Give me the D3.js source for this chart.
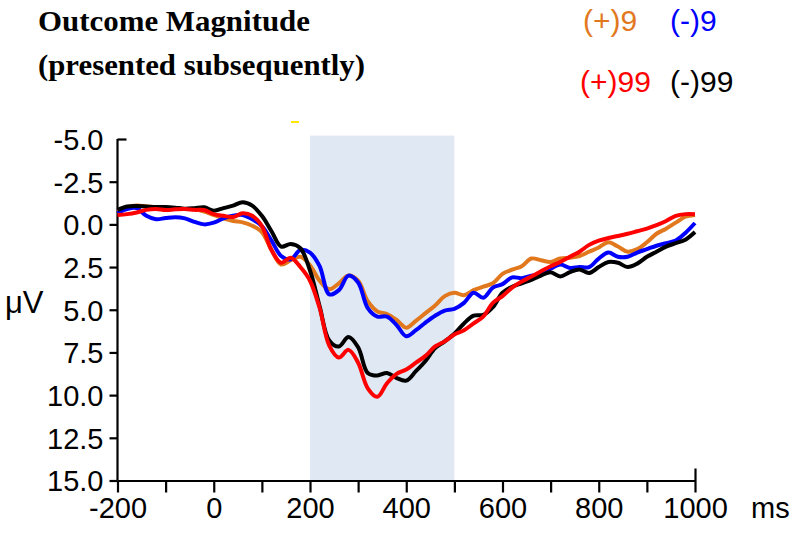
<!DOCTYPE html>
<html>
<head>
<meta charset="utf-8">
<script src="https://cdn.jsdelivr.net/npm/d3@7"></script>
<style>
    body { margin: 0; background: #fff; }
    svg { display: block; }
    .axis path, .axis line { stroke: #000; stroke-width: 2.2px; }
    .axis text { font-family: "Liberation Sans", Arial, sans-serif; fill: #000; }
</style>
</head>
<body>
<div id="chart"></div>
<script>
// time points in ms (one sample every 20 ms)
var times = d3.range(-200, 1001, 20);

// ERP amplitude in microvolts for each condition
var plus9 = [-0.72, -1.0, -1.1, -1.05, -1.0, -0.96, -0.93, -0.9, -0.88, -0.75,
    -0.55, -0.35, -0.2, -0.12, 0.08, 0.45, 1.5, 2.35, 2.1, 1.9,
    2.4, 3.3, 3.8, 3.45, 3.0, 3.3, 4.5, 5.1, 5.25, 5.6,
    6.05, 5.65, 5.2, 4.75, 4.2, 4.0, 4.15, 3.85, 3.65, 3.45,
    2.9, 2.65, 2.45, 2.0, 2.1, 2.2, 2.0, 1.95, 1.85, 1.6,
    1.35, 1.05, 1.3, 1.6, 1.45, 1.05, 0.55, 0.25, -0.1, -0.45, -0.55];
var minus9 = [-0.67, -0.9, -0.95, -0.5, -0.3, -0.37, -0.42, -0.35, -0.15, 0.0,
    -0.1, -0.35, -0.5, -0.55, -0.3, 0.1, 0.95, 1.85, 2.05, 1.5,
    1.65, 2.45, 4.1, 3.85, 3.0, 3.4, 4.9, 5.4, 5.4, 5.9,
    6.55, 6.2, 5.75, 5.35, 5.05, 4.95, 4.6, 4.0, 4.3, 3.7,
    3.5, 3.1, 3.15, 3.0, 2.95, 2.6, 2.35, 2.55, 2.5, 2.5,
    2.0, 1.65, 1.9, 1.9, 1.65, 1.45, 1.25, 1.1, 0.95, 0.5, -0.08];
var plus99 = [-0.55, -0.6, -0.7, -0.85, -0.9, -0.84, -0.88, -0.9, -0.85, -0.84,
    -0.6, -0.5, -0.43, -0.65, -0.5, 0.1, 1.5, 2.25, 1.95, 2.5,
    3.3, 4.9, 7.1, 7.8, 7.35, 8.1, 9.6, 10.1, 9.3, 8.75,
    8.5, 8.1, 7.7, 7.15, 6.85, 6.45, 6.2, 5.8, 5.4, 4.6,
    4.2, 3.7, 3.35, 3.05, 2.75, 2.45, 2.2, 1.9, 1.6, 1.2,
    0.95, 0.8, 0.68, 0.55, 0.4, 0.25, 0.05, -0.2, -0.5, -0.6, -0.6];
var minus99 = [-0.84, -1.05, -1.08, -1.05, -1.02, -1.02, -0.98, -0.92, -0.95, -1.0,
    -0.8, -0.95, -1.1, -1.3, -1.1, -0.5, 0.4, 1.3, 1.15, 1.4,
    2.7, 4.8, 6.8, 7.15, 6.6, 7.2, 8.7, 8.85, 8.7, 9.0,
    9.15, 8.6, 8.0, 7.25, 6.85, 6.4, 5.8, 5.35, 5.3, 4.85,
    4.0, 3.65, 3.45, 3.25, 3.0, 2.8, 3.05, 2.8, 2.65, 2.85,
    2.5, 2.2, 2.25, 2.5, 2.3, 1.9, 1.6, 1.3, 1.1, 0.9, 0.45];

var seriesNames = ['(+)9', '(-)9', '(+)99', '(-)99'];
var seriesColors = ['#e2781e', '#0000ff', '#ff0000', '#000000'];

// ticks
var xTicks = d3.range(-200, 1001, 100);
var xLabels = [-200, 0, 200, 400, 600, 800, 1000];
var yTicks = d3.range(-5, 15.01, 2.5);

// highlighted window (ms)
var windowStart = 200,
    windowEnd = 500;

(function() {
    var width = 800,
        height = 534,
        plotLeft = 117.5,
        plotRight = 695,
        plotTop = 139,
        plotBottom = 480.5,
        svg = d3.select('#chart').append('svg')
            .attr('width', width)
            .attr('height', height),
        xScale = d3.scaleLinear().domain([-200, 1000]).range([plotLeft, plotRight]),
        yScale = d3.scaleLinear().domain([-5, 15]).range([plotTop, plotBottom]),
        line = d3.line()
            .x(function(d) { return xScale(d[0]); })
            .y(function(d) { return yScale(d[1]); })
            .curve(d3.curveCatmullRom.alpha(0.5));

    // title
    svg.append('text')
        .attr('x', 38)
        .attr('y', 31)
        .attr('textLength', 272)
        .attr('lengthAdjust', 'spacingAndGlyphs')
        .style('font-family', '"Liberation Serif", "Times New Roman", serif')
        .style('font-weight', 'bold')
        .style('font-size', '30px')
        .text('Outcome Magnitude');

    svg.append('text')
        .attr('x', 38)
        .attr('y', 75)
        .attr('textLength', 327)
        .attr('lengthAdjust', 'spacingAndGlyphs')
        .style('font-family', '"Liberation Serif", "Times New Roman", serif')
        .style('font-weight', 'bold')
        .style('font-size', '30px')
        .text('(presented subsequently)');

    // legend, 2 x 2
    var legendPos = [[583, 31], [670, 31], [580, 92], [670, 92]];
    svg.append('g').selectAll('text')
        .data(seriesNames)
        .enter()
        .append('text')
        .attr('x', function(d, i) { return legendPos[i][0]; })
        .attr('y', function(d, i) { return legendPos[i][1]; })
        .style('font-family', '"Liberation Sans", Arial, sans-serif')
        .style('font-size', '30px')
        .style('fill', function(d, i) { return seriesColors[i]; })
        .text(function(d) { return d; });

    // small yellow mark above the plot
    svg.append('line')
        .attr('x1', 291).attr('x2', 299)
        .attr('y1', 122).attr('y2', 122)
        .style('stroke', '#ffe600')
        .style('stroke-width', 2);

    // shaded analysis window
    svg.append('rect')
        .attr('x', xScale(windowStart))
        .attr('y', yScale(-5.2))
        .attr('width', xScale(windowEnd) - xScale(windowStart))
        .attr('height', yScale(15) - yScale(-5.2))
        .style('fill', '#dfe8f3');

    // axes
    var xAxis = d3.axisBottom(xScale)
            .tickValues(xTicks)
            .tickSize(12)
            .tickSizeOuter(0)
            .tickPadding(5)
            .tickFormat(function(d) {
                return xLabels.indexOf(d) < 0 ? '' : String(d);
            }),
        yAxis = d3.axisLeft(yScale)
            .tickValues(yTicks)
            .tickSize(8)
            .tickSizeOuter(0)
            .tickPadding(6)
            .tickFormat(function(d) { return d.toFixed(1); });

    var xx = svg.append('g')
        .attr('class', 'x axis')
        .attr('transform', 'translate(0,' + plotBottom + ')')
        .call(xAxis);
    xx.selectAll('text')
        .style('font-size', '29px');
    // last tick crosses the axis
    xx.selectAll('.tick')
        .filter(function(d) { return d === 1000; })
        .select('line')
        .attr('y1', -12);

    // unit after the last x label
    svg.append('text')
        .attr('x', xScale(1000) + 56)
        .attr('y', plotBottom + 17)
        .attr('dy', '0.71em')
        .style('font-family', '"Liberation Sans", Arial, sans-serif')
        .style('font-size', '29px')
        .text('ms');

    var yy = svg.append('g')
        .attr('class', 'y axis')
        .attr('transform', 'translate(' + plotLeft + ',0)')
        .call(yAxis);
    yy.selectAll('text')
        .style('font-size', '29px')
        .attr('dy', '0.36em');
    // top tick crosses the axis
    yy.selectAll('.tick')
        .filter(function(d) { return d === -5; })
        .select('line')
        .attr('x2', 9);
    yy.select('.domain')
        .attr('d', 'M0,' + plotTop + 'V' + plotBottom);

    svg.append('text')
        .attr('x', 5)
        .attr('y', yScale(5) + 3)
        .style('font-family', '"Liberation Sans", Arial, sans-serif')
        .style('font-size', '31px')
        .text('\u03bcV');

    // waveforms, red drawn over black where they meet
    var order = [plus9, minus9, minus99, plus99],
        orderColors = ['#e2781e', '#0000ff', '#000000', '#ff0000'];
    var series = order.map(function(values) {
        return times.map(function(t, i) { return [t, values[i]]; });
    });
    svg.append('g').selectAll('path')
        .data(series)
        .enter()
        .append('path')
        .attr('d', line)
        .style('fill', 'none')
        .style('stroke', function(d, i) { return orderColors[i]; })
        .style('stroke-width', 4)
        .style('stroke-linejoin', 'round');
})();
</script>
</body>
</html>
